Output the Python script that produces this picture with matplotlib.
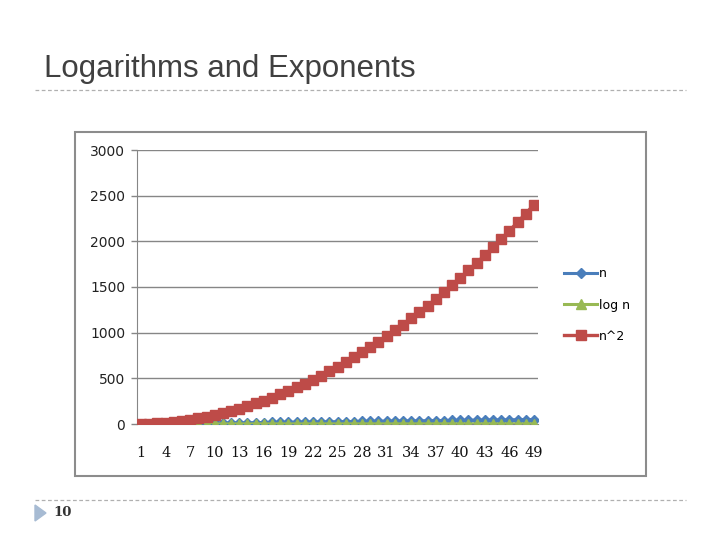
import matplotlib
matplotlib.use("Agg")
import matplotlib.pyplot as plt
from matplotlib.patches import Rectangle, Polygon
from matplotlib.lines import Line2D

categories = [1, 2, 3, 4, 5, 6, 7, 8, 9, 10, 11, 12, 13, 14, 15, 16, 17, 18, 19, 20,
              21, 22, 23, 24, 25, 26, 27, 28, 29, 30, 31, 32, 33, 34, 35, 36, 37, 38, 39, 40,
              41, 42, 43, 44, 45, 46, 47, 48, 49]
n_vals = [1, 2, 3, 4, 5, 6, 7, 8, 9, 10, 11, 12, 13, 14, 15, 16, 17, 18, 19, 20,
          21, 22, 23, 24, 25, 26, 27, 28, 29, 30, 31, 32, 33, 34, 35, 36, 37, 38, 39, 40,
          41, 42, 43, 44, 45, 46, 47, 48, 49]
logn_vals = [0.00, 0.30, 0.48, 0.60, 0.70, 0.78, 0.85, 0.90, 0.95, 1.00,
             1.04, 1.08, 1.11, 1.15, 1.18, 1.20, 1.23, 1.26, 1.28, 1.30,
             1.32, 1.34, 1.36, 1.38, 1.40, 1.41, 1.43, 1.45, 1.46, 1.48,
             1.49, 1.51, 1.52, 1.53, 1.54, 1.56, 1.57, 1.58, 1.59, 1.60,
             1.61, 1.62, 1.63, 1.64, 1.65, 1.66, 1.67, 1.68, 1.69]
nsq_vals = [1, 4, 9, 16, 25, 36, 49, 64, 81, 100, 121, 144, 169, 196, 225, 256, 289, 324,
            361, 400, 441, 484, 529, 576, 625, 676, 729, 784, 841, 900, 961, 1024, 1089,
            1156, 1225, 1296, 1369, 1444, 1521, 1600, 1681, 1764, 1849, 1936, 2025, 2116,
            2209, 2304, 2401]
series_labels = ["n", "log n", "n^2"]
y_ticks = [0, 500, 1000, 1500, 2000, 2500, 3000]
x_tick_labels = [1, 4, 7, 10, 13, 16, 19, 22, 25, 28, 31, 34, 37, 40, 43, 46, 49]

W, H = 720, 540
fig = plt.figure(figsize=(7.2, 5.4), dpi=100)
fig.patch.set_facecolor("white")

def fx(x):
    return x / W

def fy(y):
    return 1 - y / H

# Slide title and decorations
fig.text(fx(44), fy(69), "Logarithms and Exponents", fontsize=22.5,
         family="Liberation Sans", color="#404040", va="center", ha="left")
fig.add_artist(Line2D([fx(35), fx(686)], [fy(90), fy(90)], color="#b0b0b0",
                      lw=0.9, ls=(0, (3, 2))))
fig.add_artist(Line2D([fx(35), fx(686)], [fy(500), fy(500)], color="#b0b0b0",
                      lw=0.9, ls=(0, (3, 2))))
fig.add_artist(Polygon([[fx(35), fy(505)], [fx(35), fy(521)], [fx(46), fy(513)]],
                       closed=True, color="#a7bbd3", transform=fig.transFigure))
fig.text(fx(53), fy(513), "10", fontsize=9.5, family="DejaVu Serif",
         color="#333333", va="center", ha="left", fontweight="bold")

# Chart border
fig.add_artist(Rectangle((fx(75), fy(476)), fx(646) - fx(75), fy(132) - fy(476),
                         transform=fig.transFigure, fill=False,
                         edgecolor="#8c8c8c", lw=1.5))

ax = fig.add_axes([fx(137), fy(424), fx(538) - fx(137), fy(150) - fy(424)])
colors = ["#4a7ebb", "#98b954", "#be4b48"]
ax.plot(categories, n_vals, color=colors[0], lw=2.2, marker="D", markersize=5,
        label=series_labels[0], zorder=3)
ax.plot(categories, logn_vals, color=colors[1], lw=2.2, marker="^", markersize=6.5,
        label=series_labels[1], zorder=4)
ax.plot(categories, nsq_vals, color=colors[2], lw=2.4, marker="s", markersize=7.2,
        label=series_labels[2], zorder=5)

ax.set_xlim(0.5, 49.5)
ax.set_ylim(0, 3000)
ax.set_yticks(y_ticks)
ax.set_yticklabels([str(v) for v in y_ticks], fontsize=10, family="DejaVu Sans",
                   color="#222222")
ax.set_xticks(x_tick_labels)
ax.set_xticklabels([str(v) for v in x_tick_labels], fontsize=10.5,
                   family="DejaVu Serif", color="#111111")
ax.tick_params(axis="x", length=0, pad=16)
ax.tick_params(axis="y", length=4.5, width=1, color="#868686", pad=4)
ax.grid(axis="y", color="#868686", lw=1)
ax.set_axisbelow(True)
for s in ["top", "right"]:
    ax.spines[s].set_visible(False)
ax.spines["left"].set_color("#868686")
ax.spines["bottom"].set_color("#868686")

handles, labels = ax.get_legend_handles_labels()
fig.legend(handles, labels, loc="center left",
           bbox_to_anchor=(fx(553), fy(305)), frameon=False, fontsize=9,
           handlelength=2.6, handletextpad=0.15, labelspacing=1.45)

fig.savefig("out.png", dpi=100)
